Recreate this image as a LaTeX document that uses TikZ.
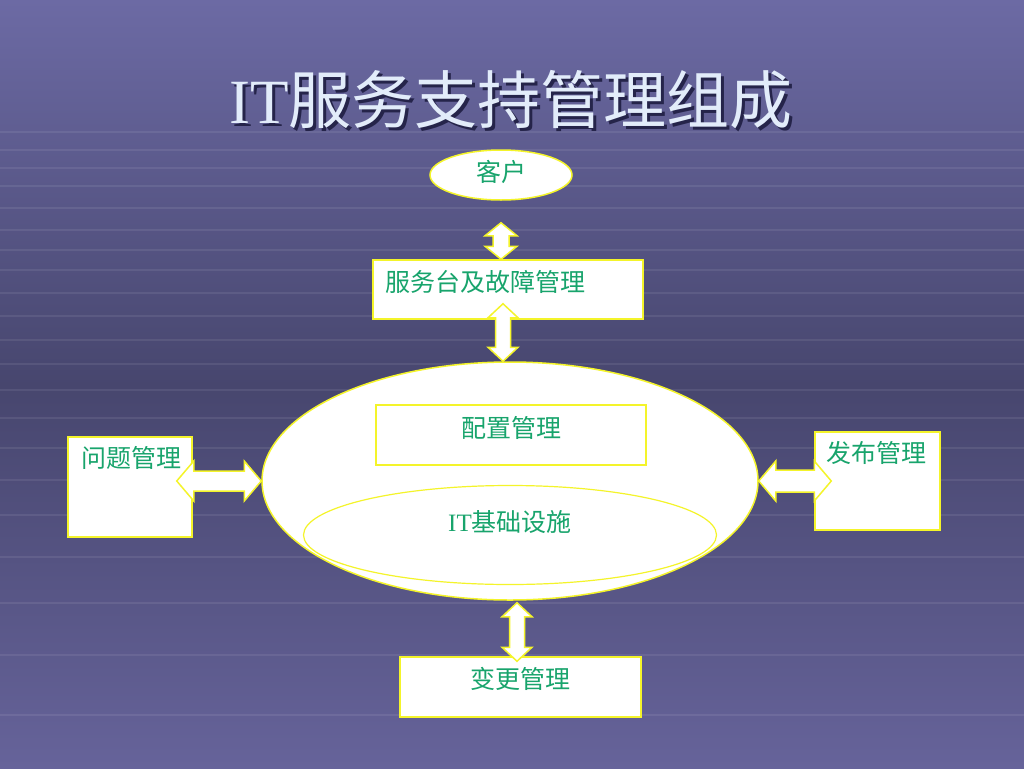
\documentclass[tikz,border=0pt]{standalone}
\usepackage{fontspec}
\setmainfont{Liberation Serif}
\newfontfamily\cjk{Noto Sans CJK SC}
\usetikzlibrary{shapes.geometric,calc}

\definecolor{bgtop}{HTML}{6C6AA4}
\definecolor{bgmid}{HTML}{47466E}
\definecolor{bgbot}{HTML}{66639A}
\definecolor{edgeyellow}{HTML}{F4F42A}
\definecolor{labelgreen}{HTML}{18A46C}
\definecolor{titlewhite}{HTML}{E2ECFA}
\definecolor{titleshade}{HTML}{25244A}

\tikzset{
  panel/.style={draw=edgeyellow, line width=1.5pt, fill=white, inner sep=0pt},
  oval/.style={panel, ellipse},
  lbl/.style={text=labelgreen, font=\cjk\fontsize{25}{29}\selectfont, inner sep=0pt},
  blockarrow/.style={fill=white, draw=edgeyellow, line width=1.5pt, line join=miter},
  gridline/.style={white, opacity=0.08, line width=1.5pt}
}

% double block arrows: #1 first tip, #2 second tip, #3 head half width, #4 shaft half width, #5 head length
\newcommand{\vdarrow}[5]{%
  \path[blockarrow] let \p1=(#1), \p2=(#2) in
    (\x1,\y1) -- (\x1+#3pt,\y1-#5pt) -- (\x1+#4pt,\y1-#5pt) -- (\x1+#4pt,\y2+#5pt)
    -- (\x1+#3pt,\y2+#5pt) -- (\x1,\y2) -- (\x1-#3pt,\y2+#5pt) -- (\x1-#4pt,\y2+#5pt)
    -- (\x1-#4pt,\y1-#5pt) -- (\x1-#3pt,\y1-#5pt) -- cycle;}
\newcommand{\hdarrow}[5]{%
  \path[blockarrow] let \p1=(#1), \p2=(#2) in
    (\x1,\y1) -- (\x1+#5pt,\y1+#3pt) -- (\x1+#5pt,\y1+#4pt) -- (\x2-#5pt,\y1+#4pt)
    -- (\x2-#5pt,\y1+#3pt) -- (\x2,\y1) -- (\x2-#5pt,\y1-#3pt) -- (\x2-#5pt,\y1-#4pt)
    -- (\x1+#5pt,\y1-#4pt) -- (\x1+#5pt,\y1-#3pt) -- cycle;}

\begin{document}
\begin{tikzpicture}[x=1pt,y=-1pt]
\useasboundingbox (0,0) rectangle (1024,768);

%background
\shade[top color=bgtop, bottom color=bgmid] (0,0) rectangle (1024,385);
\shade[top color=bgmid, bottom color=bgbot] (0,384) rectangle (1024,768);
\foreach \y in {132,150,168,186,208,230,250,270,293,316,340,364,390,418,448,480,515,557,603,655,715}
  \draw[gridline] (0,\y) -- (1024,\y);

%title
\node[text=titleshade, font=\fontsize{63}{70}\selectfont] at (514,103) {IT{\cjk 服务支持管理组成}};
\node[text=titlewhite, font=\fontsize{63}{70}\selectfont] (title) at (511,100) {IT{\cjk 服务支持管理组成}};

%nodes
\node[oval, minimum width=142, minimum height=50] (kehu) at (501,175) {};
\node[lbl] (kehut) at (501,172) {客户};

\node[panel, minimum width=270, minimum height=59] (desk) at (508,289.5) {};
\node[lbl, anchor=west] (deskt) at (385,282) {服务台及故障管理};

\node[oval, minimum width=496, minimum height=238] (core) at (510,481) {};
\node[panel, minimum width=270, minimum height=60] (conf) at (511,435) {};
\node[lbl] (conft) at (511,428) {配置管理};
\node[oval, minimum width=413, minimum height=99, line width=1.2pt] (infra) at (510,535) {};
\node[lbl] (infrat) at (510,522) {{\rmfamily IT}基础设施};

\node[panel, minimum width=124, minimum height=100] (prob) at (130,487) {};
\node[lbl, anchor=west] (probt) at (81,458) {问题管理};

\node[panel, minimum width=125, minimum height=98] (rel) at (877.5,481) {};
\node[lbl, anchor=west] (relt) at (826,453) {发布管理};

\node[panel, minimum width=241, minimum height=60] (chg) at (520.5,687) {};
\node[lbl] (chgt) at (520,679) {变更管理};

%arrows
\vdarrow{[yshift=-22pt]kehu.south}{kehu.south |- desk.north}{16}{8}{13}
\vdarrow{[xshift=-5pt,yshift=16pt]desk.south}{core.north}{15}{7.5}{14}
\hdarrow{[xshift=-16pt,yshift=6pt]prob.east}{core.west}{20}{10}{17}
\hdarrow{core.east}{[xshift=17pt]rel.west}{20}{11}{17}
\vdarrow{[xshift=7pt,yshift=-2pt]core.south}{[yshift=-5pt]chg.north}{15}{7.5}{14}
\end{tikzpicture}
\end{document}
